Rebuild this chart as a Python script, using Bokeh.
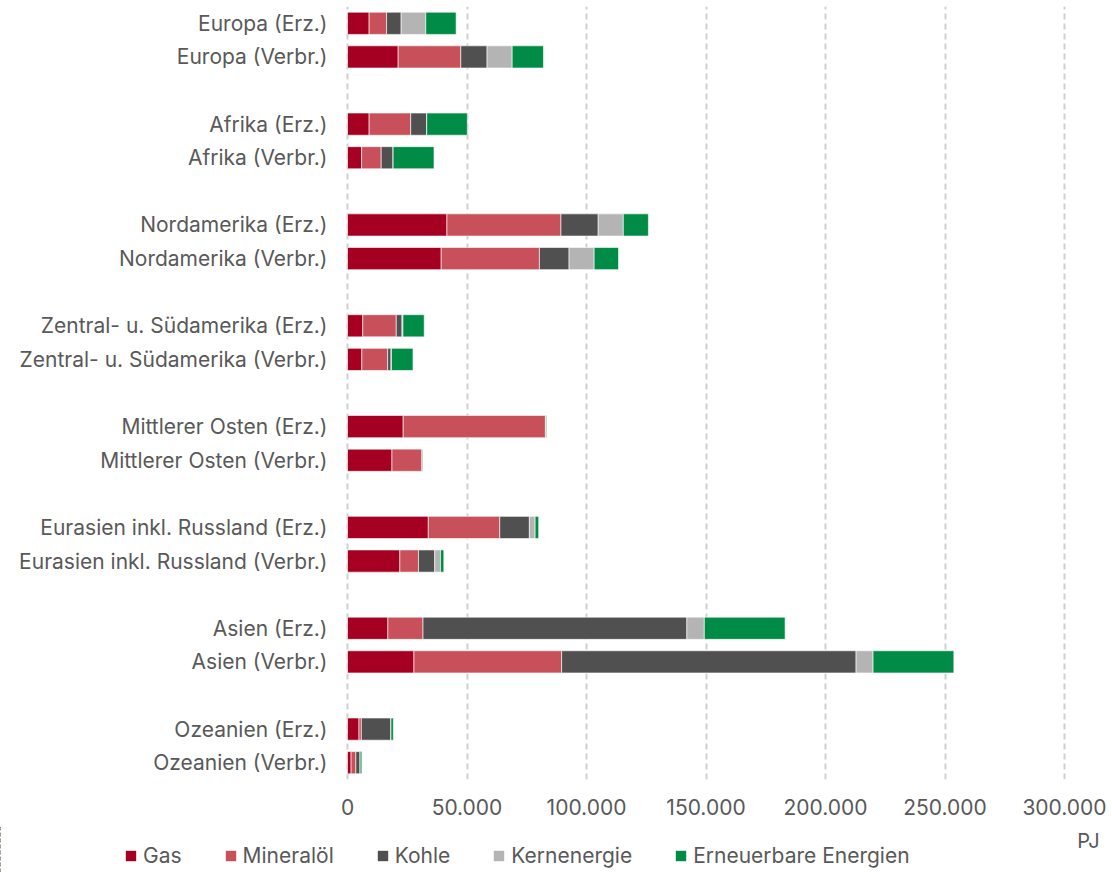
from bokeh.plotting import figure
from bokeh.layouts import column
from bokeh.models import FactorRange, Range1d, FixedTicker, Legend, LegendItem, Label, ColumnDataSource
from bokeh.core.properties import value
from bokeh.embed import file_html
from bokeh.resources import INLINE

categories = [
    "Europa (Erz.)", "Europa (Verbr.)",
    "Afrika (Erz.)", "Afrika (Verbr.)",
    "Nordamerika (Erz.)", "Nordamerika (Verbr.)",
    "Zentral- u. Südamerika (Erz.)", "Zentral- u. Südamerika (Verbr.)",
    "Mittlerer Osten (Erz.)", "Mittlerer Osten (Verbr.)",
    "Eurasien inkl. Russland (Erz.)", "Eurasien inkl. Russland (Verbr.)",
    "Asien (Erz.)", "Asien (Verbr.)",
    "Ozeanien (Erz.)", "Ozeanien (Verbr.)",
]
gas =         [9050, 21200, 9050, 5900, 41600, 39200, 6400, 6000, 23300, 18600, 33800, 21900, 16900, 27800, 4800, 1500]
mineraloel =  [7300, 26200, 17400, 8200, 47700, 41100, 14000, 10800, 59500, 12600, 29900, 7800, 14700, 61800, 1000, 2000]
kohle =       [6100, 11000, 6700, 5000, 15600, 12400, 2400, 1400, 100, 100, 12400, 6800, 110400, 123200, 12400, 1800]
kernenergie = [10300, 10500, 0, 0, 10500, 10500, 400, 200, 0, 0, 2400, 2400, 7300, 7100, 0, 0]
erneuerbare = [12700, 13100, 17000, 17100, 10500, 10200, 8900, 9000, 400, 300, 1500, 1400, 33800, 33800, 1000, 700]

series_names = ["Gas", "Mineralöl", "Kohle", "Kernenergie", "Erneuerbare Energien"]
series_keys = ["gas", "mineraloel", "kohle", "kernenergie", "erneuerbare"]
colors = ["#A50021", "#C8505A", "#505050", "#B4B4B4", "#008C46"]

x_ticks = [0, 50000, 100000, 150000, 200000, 250000, 300000]
x_tick_labels = ["0", "50.000", "100.000", "150.000", "200.000", "250.000", "300.000"]
unit_label = "PJ"

# build factor list with spacer rows between region pairs (top to bottom)
factors_top_down = []
for i in range(0, len(categories), 2):
    factors_top_down += [categories[i], categories[i + 1]]
    if i + 2 < len(categories):
        factors_top_down.append(" " * (i // 2 + 1))
factors = list(reversed(factors_top_down))

data = dict(cat=categories, gas=gas, mineraloel=mineraloel, kohle=kohle,
            kernenergie=kernenergie, erneuerbare=erneuerbare)
src = ColumnDataSource(data)

FONT = "Inter"
TXT = "#595959"

# layout constants (pixels)
W = 1112
H = 872
P_H = 826
FRAME_BOTTOM = 779
ZERO_PX = 347
LAST_TICK_PX = 1064
X_END = x_ticks[-1] * (W - ZERO_PX) / (LAST_TICK_PX - ZERO_PX)
X_START = -X_END * ZERO_PX / (W - ZERO_PX)

p = figure(width=W, height=P_H, y_range=FactorRange(factors=factors, range_padding=0),
           x_range=Range1d(X_START, X_END), output_backend="svg", toolbar_location=None,
           y_axis_location=None,
           min_border_left=0, min_border_right=0, min_border_top=6,
           min_border_bottom=P_H - FRAME_BOTTOM)
p.outline_line_color = None

renderers = p.hbar_stack(series_keys, y="cat", height=0.66, color=colors, source=src,
                         line_color="white", line_width=0.6)

# category labels (left of the zero line)
p.text(x=0, y="cat", text="cat", source=src, x_offset=-20, text_align="right",
       text_baseline="middle", text_font=value(FONT), text_font_size="21px", text_color=TXT)

p.xaxis.ticker = FixedTicker(ticks=x_ticks)
p.xaxis.major_label_overrides = {t: l for t, l in zip(x_ticks, x_tick_labels)}
p.xaxis.axis_line_color = None
p.xaxis.major_tick_line_color = None
p.xaxis.minor_tick_line_color = None
p.xaxis.major_label_text_font = FONT
p.xaxis.major_label_text_font_size = "21px"
p.xaxis.major_label_text_color = TXT
p.xaxis.major_label_standoff = 13

p.ygrid.grid_line_color = None
p.xgrid.grid_line_color = "#D0D0D0"
p.xgrid.grid_line_width = 2
p.xgrid.grid_line_dash = "6 4"

# strip below the chart: unit label + legend (legend swatches from zero-width renderers)
LG_H = H - P_H
lg = figure(width=W, height=LG_H, x_range=Range1d(1, 2),
            y_range=FactorRange(factors=factors), output_backend="svg", toolbar_location=None,
            x_axis_location=None, y_axis_location=None,
            min_border_left=0, min_border_right=0, min_border_top=0, min_border_bottom=0)
lg.outline_line_color = None
lg.grid.visible = False
zero_src = ColumnDataSource(dict(cat=categories, **{k: [0] * len(categories) for k in series_keys}))
lg_renderers = lg.hbar_stack(series_keys, y="cat", height=0.66, color=colors,
                             source=zero_src, line_color=None)

lg.add_layout(Label(x=1088, y=LG_H - 14, x_units="screen", y_units="screen",
                    text=unit_label, text_font=FONT, text_font_size="20px", text_color=TXT,
                    text_align="center", text_baseline="middle"))

legend = Legend(items=[LegendItem(label=n, renderers=[r]) for n, r in zip(series_names, lg_renderers)],
                orientation="horizontal", location=(124, 4),
                glyph_width=13, glyph_height=13, label_standoff=6, spacing=42, label_height=18,
                label_text_font=FONT, label_text_font_size="21px", label_text_color=TXT,
                border_line_color=None, background_fill_alpha=0, padding=0, margin=0)
lg.add_layout(legend, "center")

open("out.html", "w").write(file_html(column(p, lg, spacing=0), INLINE))
